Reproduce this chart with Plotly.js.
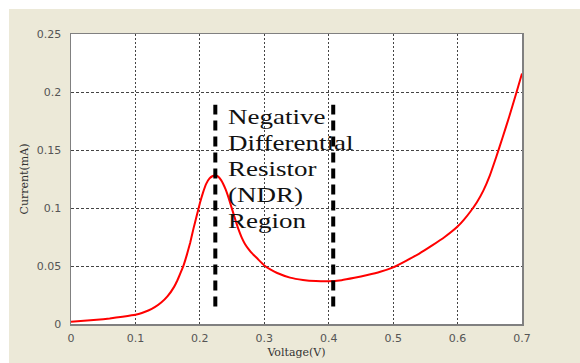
<!DOCTYPE html>
<html>
<head>
<meta charset="utf-8">
<script src="https://cdn.plot.ly/plotly-3.0.1.min.js"></script>
<style>html,body{margin:0;padding:0;background:#fff;}#chart{width:580px;height:363px;}</style>
</head>
<body>
<div id="chart"></div>
<script>
// I-V curve (Voltage in V, Current in mA)
const voltage = [0.00, 0.02, 0.04, 0.06, 0.08, 0.10, 0.11, 0.12, 0.13, 0.14, 0.15, 0.16, 0.165, 0.17, 0.175, 0.18, 0.185, 0.19, 0.195, 0.20, 0.205, 0.21, 0.215, 0.22, 0.2236, 0.228, 0.233, 0.24, 0.245, 0.25, 0.255, 0.26, 0.265, 0.27, 0.275, 0.28, 0.29, 0.30, 0.31, 0.32, 0.34, 0.36, 0.38, 0.40, 0.42, 0.44, 0.46, 0.48, 0.50, 0.52, 0.54, 0.56, 0.58, 0.60, 0.61, 0.62, 0.63, 0.64, 0.65, 0.66, 0.67, 0.68, 0.69, 0.70];
const current = [0.0020, 0.0027, 0.0036, 0.0048, 0.0063, 0.0080, 0.0095, 0.0116, 0.0145, 0.0185, 0.0240, 0.0320, 0.0375, 0.0440, 0.0510, 0.0600, 0.0700, 0.0820, 0.0930, 0.1040, 0.1135, 0.1210, 0.1255, 0.1276, 0.1280, 0.1272, 0.1240, 0.1160, 0.1080, 0.0990, 0.0900, 0.0815, 0.0745, 0.0690, 0.0650, 0.0615, 0.0560, 0.0505, 0.0468, 0.0440, 0.0400, 0.0380, 0.0370, 0.0368, 0.0378, 0.0398, 0.0422, 0.0450, 0.0488, 0.0545, 0.0605, 0.0675, 0.0750, 0.0840, 0.0900, 0.0970, 0.1050, 0.1150, 0.1280, 0.1440, 0.1610, 0.1785, 0.1970, 0.2160];
// NDR region boundaries (dashed markers)
const ndrLeftX = [0.224, 0.224];
const ndrRightX = [0.407, 0.407];
const ndrY = [0.015, 0.189];
const xTicks = [0, 0.1, 0.2, 0.3, 0.4, 0.5, 0.6, 0.7];
const xTickText = ['0', '0.1', '0.2', '0.3', '0.4', '0.5', '0.6', '0.7'];
const yTicks = [0, 0.05, 0.1, 0.15, 0.2, 0.25];
const yTickText = ['0', '0.05', '0.1', '0.15', '0.2', '0.25'];
const ndrLabel = 'Negative<br>Differential<br>Resistor<br>(NDR)<br>Region';

const traces = [
  {x: voltage, y: current, type: 'scatter', mode: 'lines', line: {color: '#ff0000', width: 2, shape: 'spline', smoothing: 0.3}, hoverinfo: 'skip'},
  {x: ndrLeftX, y: ndrY, type: 'scatter', mode: 'lines', line: {color: '#000000', width: 4, dash: '10px,6px'}, hoverinfo: 'skip'},
  {x: ndrRightX, y: ndrY, type: 'scatter', mode: 'lines', line: {color: '#000000', width: 4, dash: '10px,6px'}, hoverinfo: 'skip'}
];

const axisCommon = {
  showline: true, mirror: true, linecolor: '#808080', linewidth: 1.5,
  showgrid: true, gridcolor: '#444444', gridwidth: 1,
  zeroline: false, ticks: 'outside', ticklen: 3, tickcolor: 'rgba(0,0,0,0)',
  tickfont: {family: 'DejaVu Sans', size: 11, color: '#555555'},
  tickmode: 'array'
};

const layout = {
  width: 580, height: 363,
  margin: {l: 71, r: 58, t: 34, b: 39, pad: 0},
  paper_bgcolor: '#ECE9D8',
  plot_bgcolor: '#ffffff',
  showlegend: false,
  xaxis: Object.assign({}, axisCommon, {
    range: [0, 0.7], tickvals: xTicks, ticktext: xTickText, griddash: '2px,2px',
    title: {text: 'Voltage(V)', font: {family: 'DejaVu Serif', size: 11, color: '#333333'}, standoff: 4}
  }),
  yaxis: Object.assign({}, axisCommon, {
    range: [0, 0.25], tickvals: yTicks, ticktext: yTickText, griddash: '3px,2px', ticklen: 6,
    title: {text: 'Current(mA)', font: {family: 'DejaVu Serif', size: 11, color: '#333333'}, standoff: 6}
  }),
  shapes: [
    {type: 'rect', xref: 'paper', yref: 'paper', x0: -0.2, x1: 1.2, y0: 1.086, y1: 1.2, fillcolor: '#ffffff', line: {width: 0}, layer: 'below'},
    {type: 'rect', xref: 'paper', yref: 'paper', x0: -0.2, x1: -0.1375, y0: -0.2, y1: 1.2, fillcolor: '#ffffff', line: {width: 0}, layer: 'below'}
  ],
  annotations: [
    {x: 0.241, y: 0.1330, xref: 'x', yref: 'y', xanchor: 'left', yanchor: 'middle', align: 'left', showarrow: false,
     text: ndrLabel, font: {family: 'Liberation Serif, Times New Roman, serif', size: 20, color: '#111111'}}
  ]
};

Plotly.newPlot('chart', traces, layout, {staticPlot: true, displayModeBar: false}).then(function (gd) {
  // the reference lettering is horizontally stretched; widen the label the same way
  gd.querySelectorAll('.annotation-text').forEach(function (t) {
    const bx = t.getBBox().x;
    t.setAttribute('transform', 'translate(' + bx + ',0) scale(1.35,1) translate(' + (-bx) + ',0)');
  });
});
</script>
</body>
</html>
